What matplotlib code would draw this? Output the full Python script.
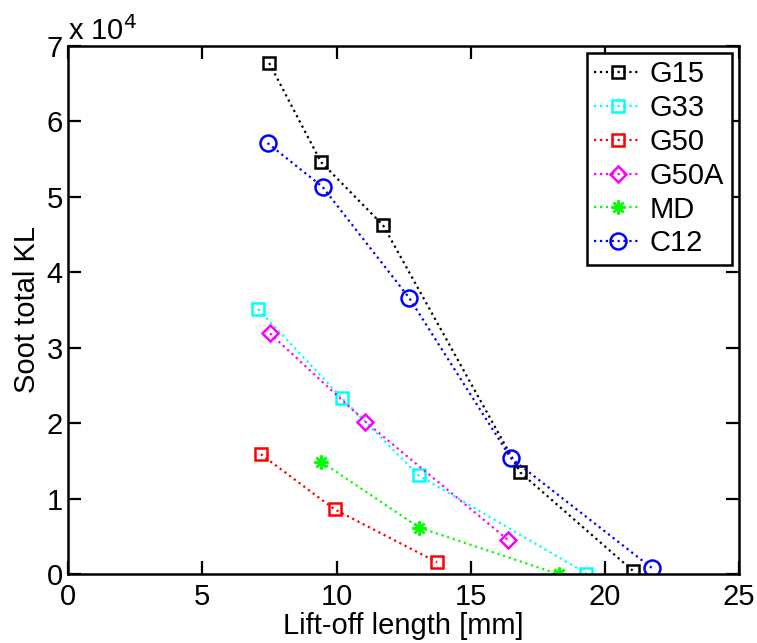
import numpy as np
import matplotlib.pyplot as plt
from matplotlib.ticker import FuncFormatter

plt.rcParams['font.family'] = ['Liberation Sans', 'DejaVu Sans']

# lift-off length [mm] and soot total KL
g15_x = [7.49, 9.42, 11.74, 16.85, 21.04]
g15_y = [67700, 54600, 46200, 13500, 500]
g33_x = [7.08, 10.21, 13.06, 19.32]
g33_y = [35100, 23300, 13100, 100]
g50_x = [7.18, 9.93, 13.75]
g50_y = [15900, 8600, 1600]
g50a_x = [7.52, 11.08, 16.38]
g50a_y = [31900, 20200, 4600]
md_x = [9.44, 13.08, 18.29]
md_y = [14900, 6200, 0]
c12_x = [7.43, 9.48, 12.71, 16.50, 21.77]
c12_y = [57100, 51300, 36600, 15400, 800]

series = [
    ('G15', g15_x, g15_y, 'k', 's', 8.5),
    ('G33', g33_x, g33_y, (0, 1, 1), 's', 8.5),
    ('G50', g50_x, g50_y, 'r', 's', 8.5),
    ('G50A', g50a_x, g50a_y, (1, 0, 1), 'D', 8),
    ('MD', md_x, md_y, (0, 1, 0), (8, 2, 0), 10),
    ('C12', c12_x, c12_y, 'b', 'o', 11.5),
]

fs = 21
fig = plt.figure(figsize=(7.57, 6.43), dpi=100)
ax = fig.add_axes([0.0902, 0.1068, 0.976 - 0.0902, 0.929 - 0.1068])

for name, x, y, col, mk, ms in series:
    ax.plot(x, y, linestyle=':', color=col, lw=1.6, marker=mk, ms=ms,
            mfc='none', mec=col, mew=1.8, label=name)

ax.set_xlim(0, 25)
ax.set_ylim(0, 70000)
ax.set_xticks([0, 5, 10, 15, 20, 25])
ax.set_yticks(np.arange(0, 70001, 10000))
ax.yaxis.set_major_formatter(FuncFormatter(lambda v, p: '%d' % round(v / 1e4)))
ax.tick_params(direction='in', length=9.5, width=1.6, labelsize=fs,
               top=True, right=True)
ax.tick_params(axis='x', pad=6)
ax.tick_params(axis='y', pad=4)
for s in ax.spines.values():
    s.set_linewidth(1.8)

ax.text(0.0, 1.0, 'x 10$^{4}$', transform=ax.transAxes, fontsize=fs,
        ha='left', va='bottom')

ax.set_xlabel('Lift-off length [mm]', fontsize=fs, labelpad=1)
ax.set_ylabel('Soot total KL', fontsize=fs, labelpad=4)

leg = ax.legend(loc='upper right', fontsize=fs, handlelength=1.6,
                labelspacing=0.2, borderaxespad=0.25, handletextpad=0.3,
                borderpad=0.25, fancybox=False, edgecolor='k', framealpha=1)
leg.get_frame().set_linewidth(1.8)

fig.savefig('out.png', dpi=100)
